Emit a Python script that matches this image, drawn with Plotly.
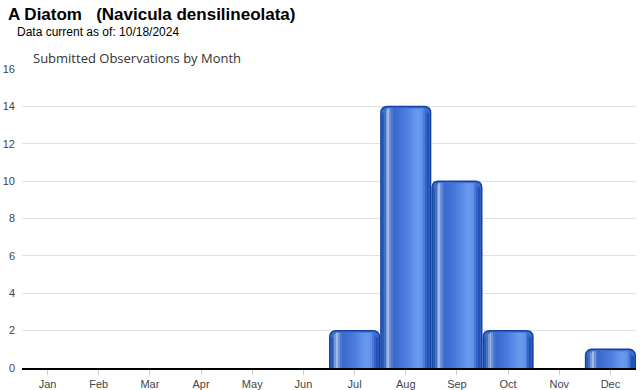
import plotly.graph_objects as go

months = ["Jan", "Feb", "Mar", "Apr", "May", "Jun", "Jul", "Aug", "Sep", "Oct", "Nov", "Dec"]
observations = [0, 0, 0, 0, 0, 0, 2, 14, 10, 2, 0, 1]
y_ticks = [0, 2, 4, 6, 8, 10, 12, 14, 16]

title_text = "A Diatom\u00a0\u00a0\u00a0(Navicula densilineolata)"
subtitle_text = "Data current as of: 10/18/2024"
chart_title = "Submitted Observations by Month"

# ---- layout geometry (pixels) ----
W, H = 640, 390
ML, MR, MT, MB = 22, 4, 69, 22
PW, PH = W - ML - MR, H - MT - MB
YMAX = 16
BW = 0.97  # bar width in category units

px_x = 1.0 / (PW / len(months))   # category units per pixel
px_y = YMAX / PH                  # value units per pixel

# horizontal cylinder gradient stops
stops = [
    (0.00, (0x20, 0x4e, 0xb4)),
    (0.06, (0x46, 0x72, 0xc6)),
    (0.13, (0xa8, 0xbe, 0xe4)),
    (0.19, (0x54, 0x80, 0xd4)),
    (0.26, (0x38, 0x68, 0xce)),
    (0.50, (0x4a, 0x7c, 0xde)),
    (0.76, (0x6a, 0x9a, 0xf0)),
    (0.86, (0x62, 0x93, 0xea)),
    (0.94, (0x36, 0x64, 0xca)),
    (1.00, (0x1c, 0x48, 0xac)),
]


def grad(t):
    for (a, ca), (b, cb) in zip(stops[:-1], stops[1:]):
        if a <= t <= b:
            f = (t - a) / (b - a) if b > a else 0
            c = [round(ca[i] + (cb[i] - ca[i]) * f) for i in range(3)]
            return "rgb(%d,%d,%d)" % tuple(c)
    return "rgb(%d,%d,%d)" % stops[-1][1]


drawn = [v if v > 0 else None for v in observations]

fig = go.Figure()

# base bars with border and rounded corners
fig.add_trace(go.Bar(
    x=months, y=drawn, width=BW,
    marker=dict(color="#3d6fd2", line=dict(color="#1442a2", width=1.5), cornerradius=6),
    hoverinfo="x+y",
))

# gradient strips
N = 26
inset = 1.5 * px_x
inner_w = BW - 2 * inset
sw = inner_w / N
for i in range(N):
    t = (i + 0.5) / N
    left = -BW / 2 + inset + i * sw
    edge_px = min(i * sw, (N - i - 1) * sw) / px_x
    drop = (2.0 if edge_px > 5 else 2.0 + (5 - edge_px) * 0.9) * px_y
    ys = [None if v is None else max(v - drop, 0) for v in drawn]
    fig.add_trace(go.Bar(
        x=months, y=ys, width=sw * 1.08, offset=left,
        marker=dict(color=grad(t), line=dict(width=0), cornerradius=0),
        hoverinfo="skip", showlegend=False,
    ))

fig.update_layout(
    width=W, height=H,
    margin=dict(l=ML, r=MR, t=MT, b=MB, pad=0),
    barmode="overlay",
    showlegend=False,
    plot_bgcolor="white", paper_bgcolor="white",
    font=dict(family="Arial, Liberation Sans, sans-serif", size=11, color="#444444"),
    xaxis=dict(
        type="category", categoryorder="array", categoryarray=months,
        range=[-0.5, len(months) - 0.5],
        showgrid=False, showline=True, linecolor="black", linewidth=1.5,
        ticks="outside", ticklen=5, tickcolor="#cccccc", tickwidth=1,
        tickfont=dict(size=11, color="#444444"), automargin=False,
    ),
    yaxis=dict(
        range=[0, YMAX], tickvals=y_ticks, showgrid=True, gridcolor="#e2e2e2", gridwidth=1,
        zeroline=False, showline=False, ticks="", ticklabelstandoff=6,
        tickfont=dict(size=11, color="#444444"), automargin=False,
    ),
)


def ax(px):
    return (px - ML) / PW


def ay(py):
    return (H - MB - py) / PH


fig.add_annotation(text="<b>" + title_text + "</b>", xref="paper", yref="paper",
                   x=ax(6), y=ay(15), xanchor="left", yanchor="middle", showarrow=False,
                   font=dict(family="Arial, Liberation Sans, sans-serif", size=17, color="black"))
fig.add_annotation(text=subtitle_text, xref="paper", yref="paper",
                   x=ax(15), y=ay(32), xanchor="left", yanchor="middle", showarrow=False,
                   font=dict(family="Arial, Liberation Sans, sans-serif", size=12, color="black"))
fig.add_annotation(text=chart_title, xref="paper", yref="paper",
                   x=ax(31), y=ay(58), xanchor="left", yanchor="middle", showarrow=False,
                   font=dict(family="Open Sans, sans-serif", size=13, color="#333333"))

fig.write_html("out.html", config={"displayModeBar": False},
               post_script="document.body.style.margin='0';document.body.style.overflow='hidden';")
